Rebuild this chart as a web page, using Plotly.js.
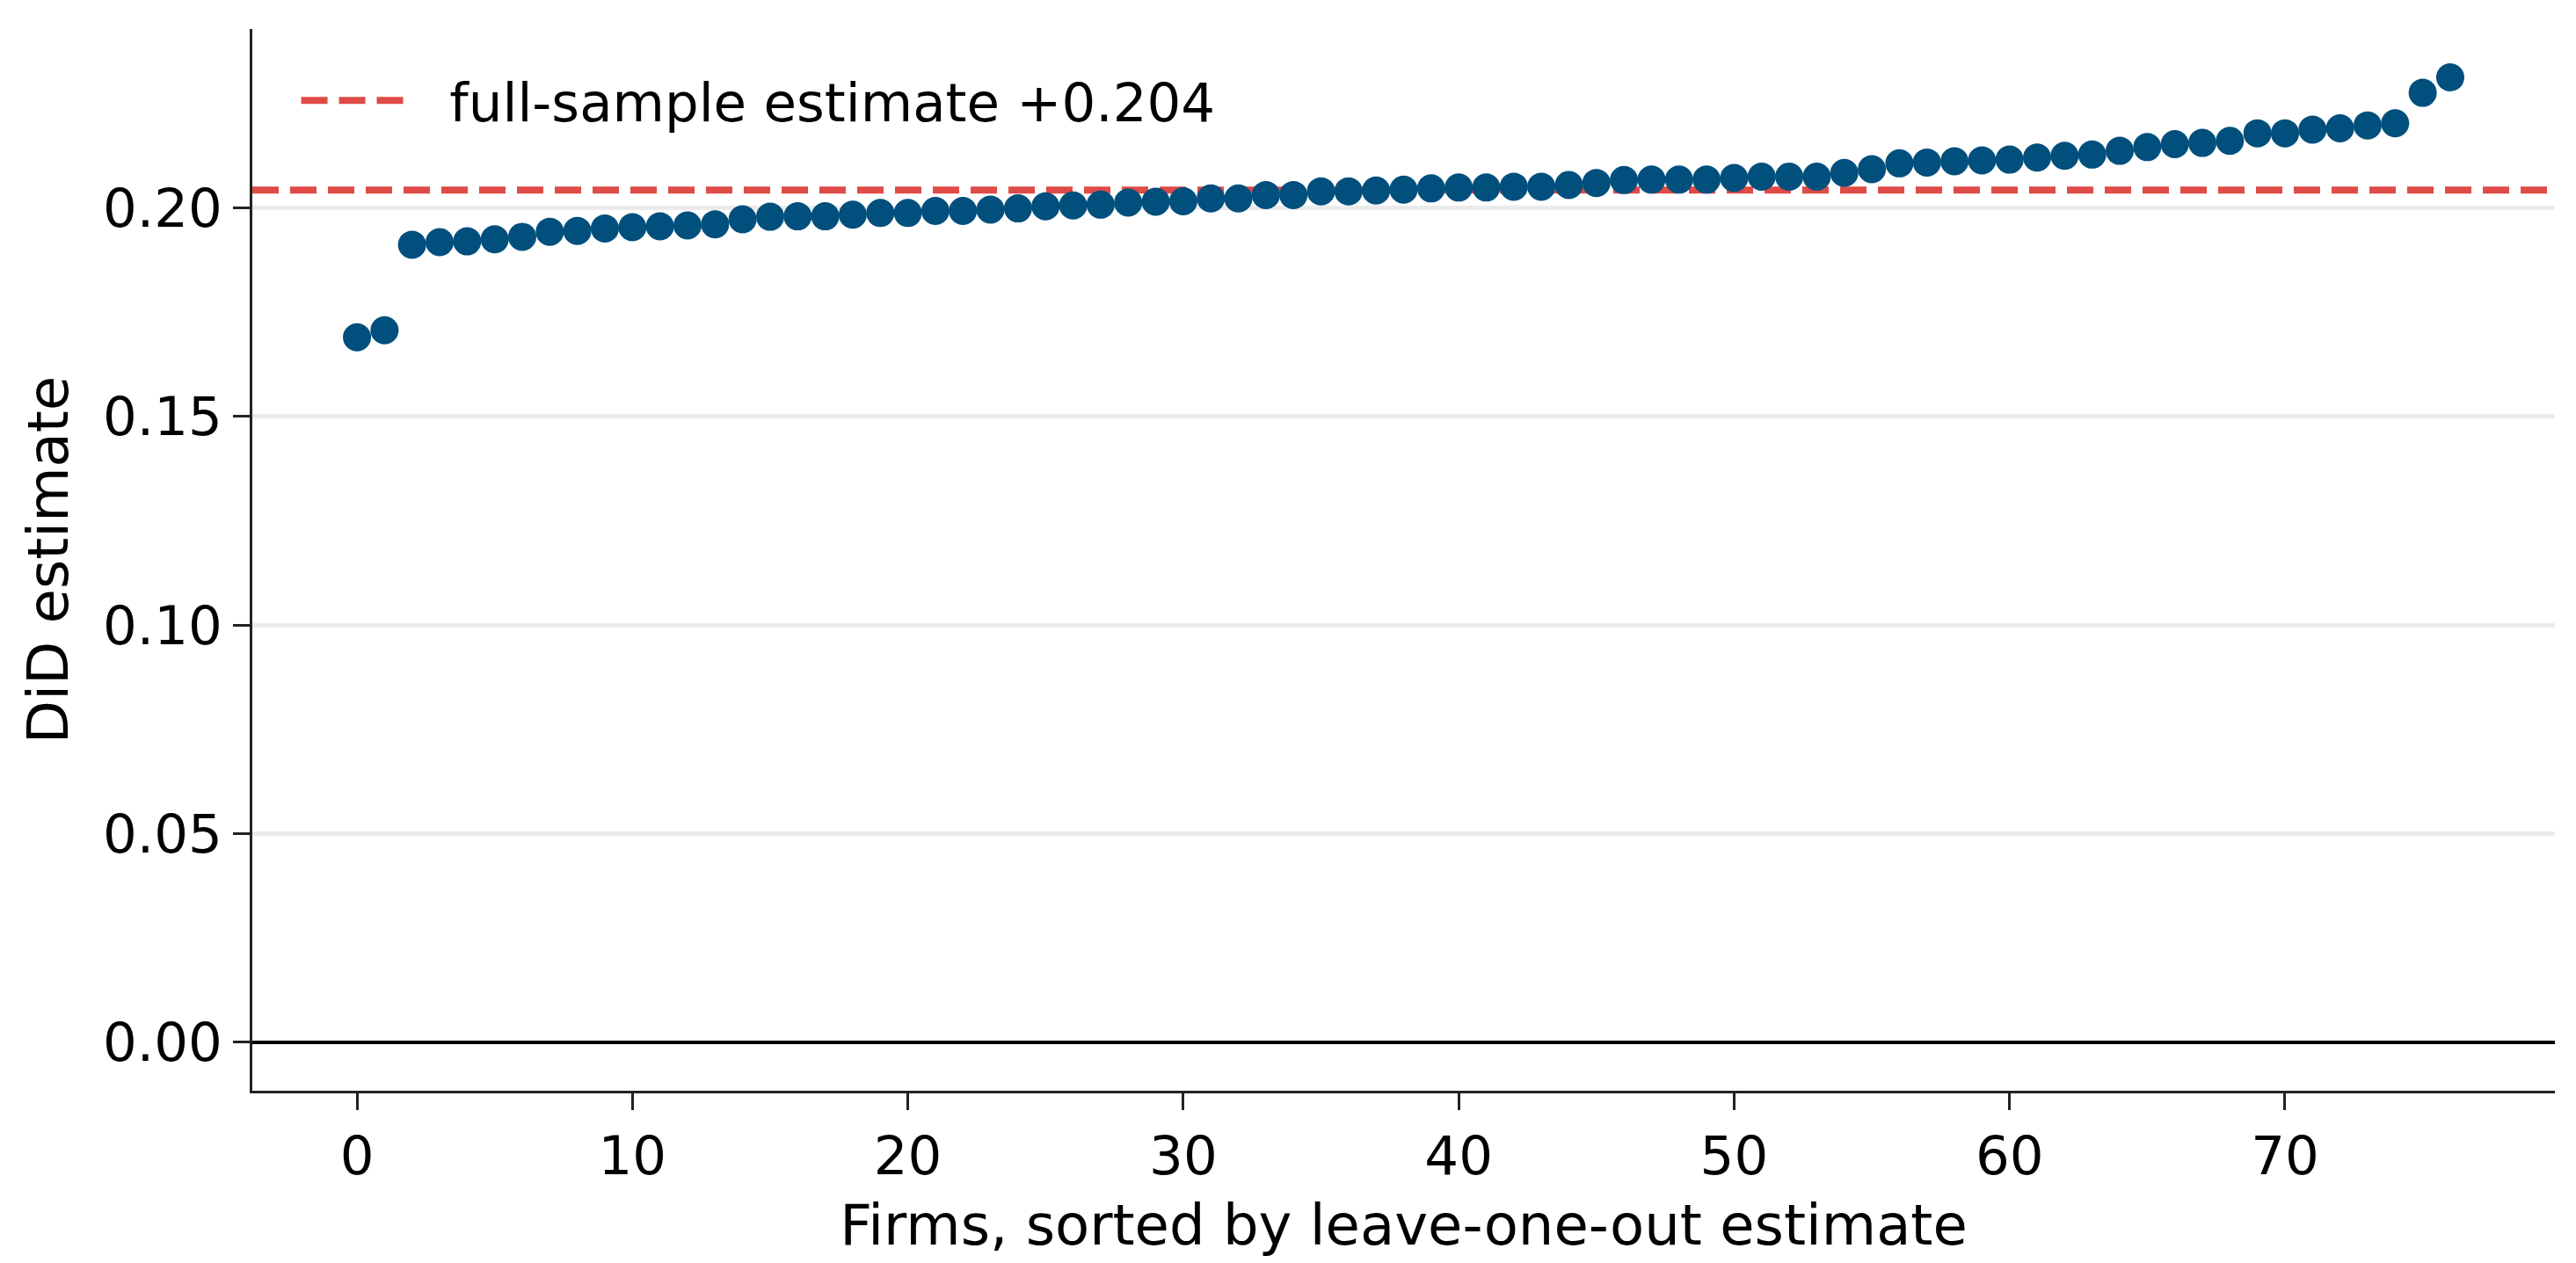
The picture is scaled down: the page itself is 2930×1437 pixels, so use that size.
<!DOCTYPE html>
<html>
<head>
<meta charset="utf-8">
<script src="https://cdn.plot.ly/plotly-3.0.1.min.js"></script>
<style>
  html, body { margin: 0; padding: 0; background: #fff; }
  #chart { width: 2930px; height: 1437px; }
</style>
</head>
<body>
<div id="chart"></div>
<script>
// leave-one-out DiD estimates, one per dropped firm, sorted ascending
const firmIndex = Array.from({ length: 77 }, (_, i) => i)
const looEstimates = [
  0.1690, 0.1707, 0.1912, 0.1918, 0.1920, 0.1925, 0.1931, 0.1943, 0.1945, 0.1951,
  0.1954, 0.1956, 0.1958, 0.1961, 0.1973, 0.1979, 0.1980, 0.1980, 0.1984, 0.1988,
  0.1988, 0.1993, 0.1993, 0.1996, 0.1999, 0.2004, 0.2006, 0.2008, 0.2013, 0.2015,
  0.2016, 0.2023, 0.2023, 0.2031, 0.2031, 0.2040, 0.2040, 0.2042, 0.2044, 0.2047,
  0.2049, 0.2049, 0.2051, 0.2051, 0.2055, 0.2060, 0.2067, 0.2068, 0.2068, 0.2068,
  0.2072, 0.2075, 0.2075, 0.2075, 0.2084, 0.2093, 0.2107, 0.2109, 0.2112, 0.2114,
  0.2116, 0.2121, 0.2125, 0.2128, 0.2137, 0.2146, 0.2153, 0.2156, 0.2161, 0.2179,
  0.2179, 0.2188, 0.2191, 0.2198, 0.2203, 0.2276, 0.2313
]
const fullSampleEstimate = 0.2043
const fullSampleLabel = 'full-sample estimate +0.204'

const yTicks = [0.00, 0.05, 0.10, 0.15, 0.20]
const xTicks = [0, 10, 20, 30, 40, 50, 60, 70]

const font = 'DejaVu Sans, sans-serif'

const dots = {
  x: firmIndex,
  y: looEstimates,
  type: 'scatter',
  mode: 'markers',
  marker: { color: '#004f7d', size: 32, line: { width: 0 } },
  showlegend: false,
  hoverinfo: 'x+y'
}

const layout = {
  width: 2930,
  height: 1437,
  paper_bgcolor: '#ffffff',
  plot_bgcolor: '#ffffff',
  margin: { l: 287, r: 24, t: 33, b: 196 },
  font: { family: font, size: 61, color: '#000000' },
  showlegend: true,
  legend: {
    x: 0.0193, y: 0.971,
    xanchor: 'left', yanchor: 'top',
    bgcolor: 'rgba(0,0,0,0)',
    borderwidth: 0,
    itemwidth: 125,
    font: { family: font, size: 61, color: '#000000' }
  },
  xaxis: {
    range: [-3.8, 79.8],
    tickvals: xTicks,
    ticks: 'outside', ticklen: 19, tickwidth: 3, tickcolor: '#222222',
    showline: true, linecolor: '#222222', linewidth: 3,
    showgrid: false, zeroline: false,
    tickfont: { family: font, size: 61 },
    title: { text: 'Firms, sorted by leave-one-out estimate', font: { family: font, size: 64 }, standoff: 22 }
  },
  yaxis: {
    range: [-0.0116, 0.2429],
    tickvals: yTicks,
    tickformat: '.2f',
    ticks: 'outside', ticklen: 19, tickwidth: 3, tickcolor: '#222222',
    showline: true, linecolor: '#222222', linewidth: 3,
    showgrid: true, gridcolor: '#ebebeb', gridwidth: 5,
    zeroline: true, zerolinecolor: '#000000', zerolinewidth: 4,
    tickfont: { family: font, size: 61 },
    title: { text: 'DiD estimate', font: { family: font, size: 64 }, standoff: 19 }
  },
  shapes: [{
    type: 'line',
    xref: 'paper', x0: 0, x1: 1,
    yref: 'y', y0: fullSampleEstimate, y1: fullSampleEstimate,
    line: { color: '#df4b47', width: 8, dash: '30px,13px' },
    layer: 'below',
    showlegend: true,
    // two no-break spaces widen the gap between the sample line and the text
    name: '\u00a0\u00a0' + fullSampleLabel
  }]
}

Plotly.newPlot('chart', [dots], layout, { displayModeBar: false, staticPlot: true })
</script>
</body>
</html>
